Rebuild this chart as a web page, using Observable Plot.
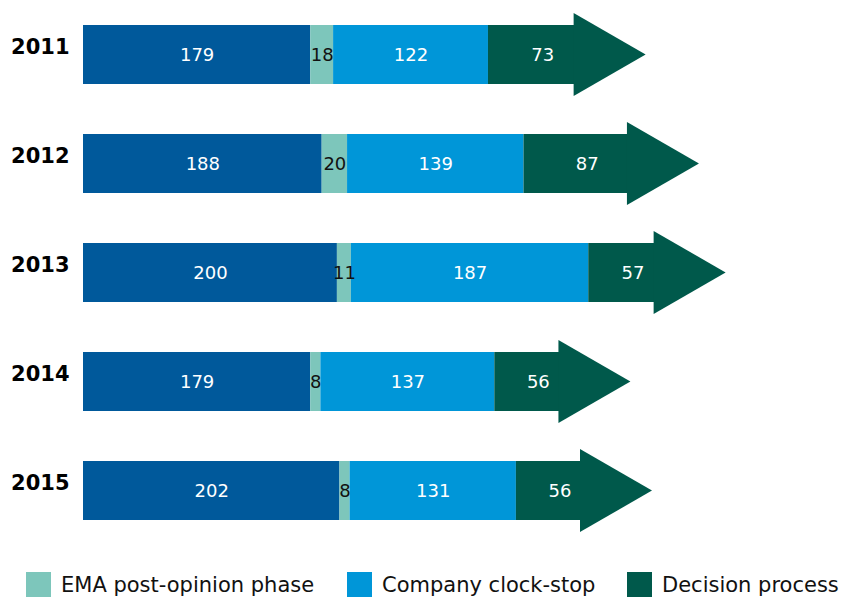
<!DOCTYPE html>
<html>
<head>
<meta charset="utf-8">
<script src="https://cdn.jsdelivr.net/npm/d3@7"></script>
<script src="https://cdn.jsdelivr.net/npm/@observablehq/plot@0.6"></script>
<style>
  html, body { margin: 0; padding: 0; background: #fff; }
  body { width: 842px; height: 597px; overflow: hidden; position: relative; font-family: "DejaVu Sans", Verdana, sans-serif; }
  #chart { position: absolute; left: 0; top: 0; }
  .sw { position: absolute; top: 572px; width: 25px; height: 25px; }
  .lt { position: absolute; top: 575px; font-size: 21px; line-height: 21px; color: #111; white-space: nowrap; }
</style>
</head>
<body>
<div id="chart"></div>
<div id="legend"></div>
<script>
// ---- data ----
const years = ["2011", "2012", "2013", "2014", "2015"];
const evaluationPhase = [179, 188, 200, 179, 202];
const postOpinion = [18, 20, 11, 8, 8];
const clockStop = [122, 139, 187, 137, 131];
const decisionProcess = [73, 87, 57, 56, 56];
const seriesNames = ["EMA evaluation phase", "EMA post-opinion phase", "Company clock-stop", "Decision process"];
const seriesColors = ["#00599b", "#7dc6bb", "#0096d8", "#00594b"];
const textColors = ["#ffffff", "#111111", "#ffffff", "#ffffff"];
const legendNames = ["EMA post-opinion phase", "Company clock-stop", "Decision process"];

// ---- build stacked table ----
const seriesValues = [evaluationPhase, postOpinion, clockStop, decisionProcess];
const rows = [];
years.forEach((year, i) => {
  let acc = 0;
  seriesValues.forEach((vals, s) => {
    const v = vals[i];
    rows.push({year, series: seriesNames[s], s, value: v, x1: acc, x2: acc + v});
    acc += v;
  });
});
const body = rows.filter(d => d.s < 3);
const last = rows.filter(d => d.s === 3);

// arrow head mark drawn through Plot's scales
function arrowHeads(index, scales, values, dimensions) {
  const x = scales.x, y = scales.y;
  const bw = y.bandwidth ? y.bandwidth() : 59;
  const g = d3.create("svg:g");
  for (const d of last) {
    const xe = x(d.x2);
    const cy = y(d.year) + bw / 2;
    const half = bw * 0.705;
    g.append("path")
      .attr("d", `M${xe - 7},${cy - half}L${xe + 65},${cy}L${xe - 7},${cy + half}Z`)
      .attr("fill", seriesColors[3]);
  }
  return g.node();
}

const chart = Plot.plot({
  width: 842,
  height: 560,
  marginLeft: 83,
  marginRight: 10,
  marginTop: 0,
  marginBottom: 15,
  style: {fontFamily: "DejaVu Sans, Verdana, sans-serif", background: "transparent"},
  x: {domain: [0, 590], axis: null},
  y: {domain: years, paddingInner: 0.46, paddingOuter: 0.23, axis: null},
  color: {domain: seriesNames, range: seriesColors},
  marks: [
    Plot.barX(body, {x1: "x1", x2: "x2", y: "year", fill: "series"}),
    Plot.barX(last, {x1: "x1", x2: "x2", y: "year", fill: "series", insetRight: 6}),
    arrowHeads,
    Plot.text(body, {
      x: d => (d.x1 + d.x2) / 2,
      y: "year",
      text: d => String(d.value),
      fill: d => textColors[d.s],
      fontSize: 18
    }),
    Plot.text(last, {
      x: d => (d.x1 + d.x2) / 2,
      y: "year",
      text: d => String(d.value),
      fill: textColors[3],
      dx: 8,
      fontSize: 18
    }),
    Plot.text(years, {
      x: () => 0, y: d => d, text: d => d,
      textAnchor: "end", dx: -14, dy: -8,
      fontSize: 21, fontWeight: "bold", fill: "#000"
    })
  ]
});
document.getElementById("chart").appendChild(chart);

// ---- legend ----
const swatchLefts = [26, 347, 627];
const textLefts = [61, 382, 662];
const legend = document.getElementById("legend");
legendNames.forEach((name, i) => {
  const sw = document.createElement("div");
  sw.className = "sw";
  sw.style.left = swatchLefts[i] + "px";
  sw.style.background = seriesColors[seriesNames.indexOf(name)];
  const t = document.createElement("div");
  t.className = "lt";
  t.style.left = textLefts[i] + "px";
  t.textContent = name;
  legend.appendChild(sw);
  legend.appendChild(t);
});
</script>
</body>
</html>
